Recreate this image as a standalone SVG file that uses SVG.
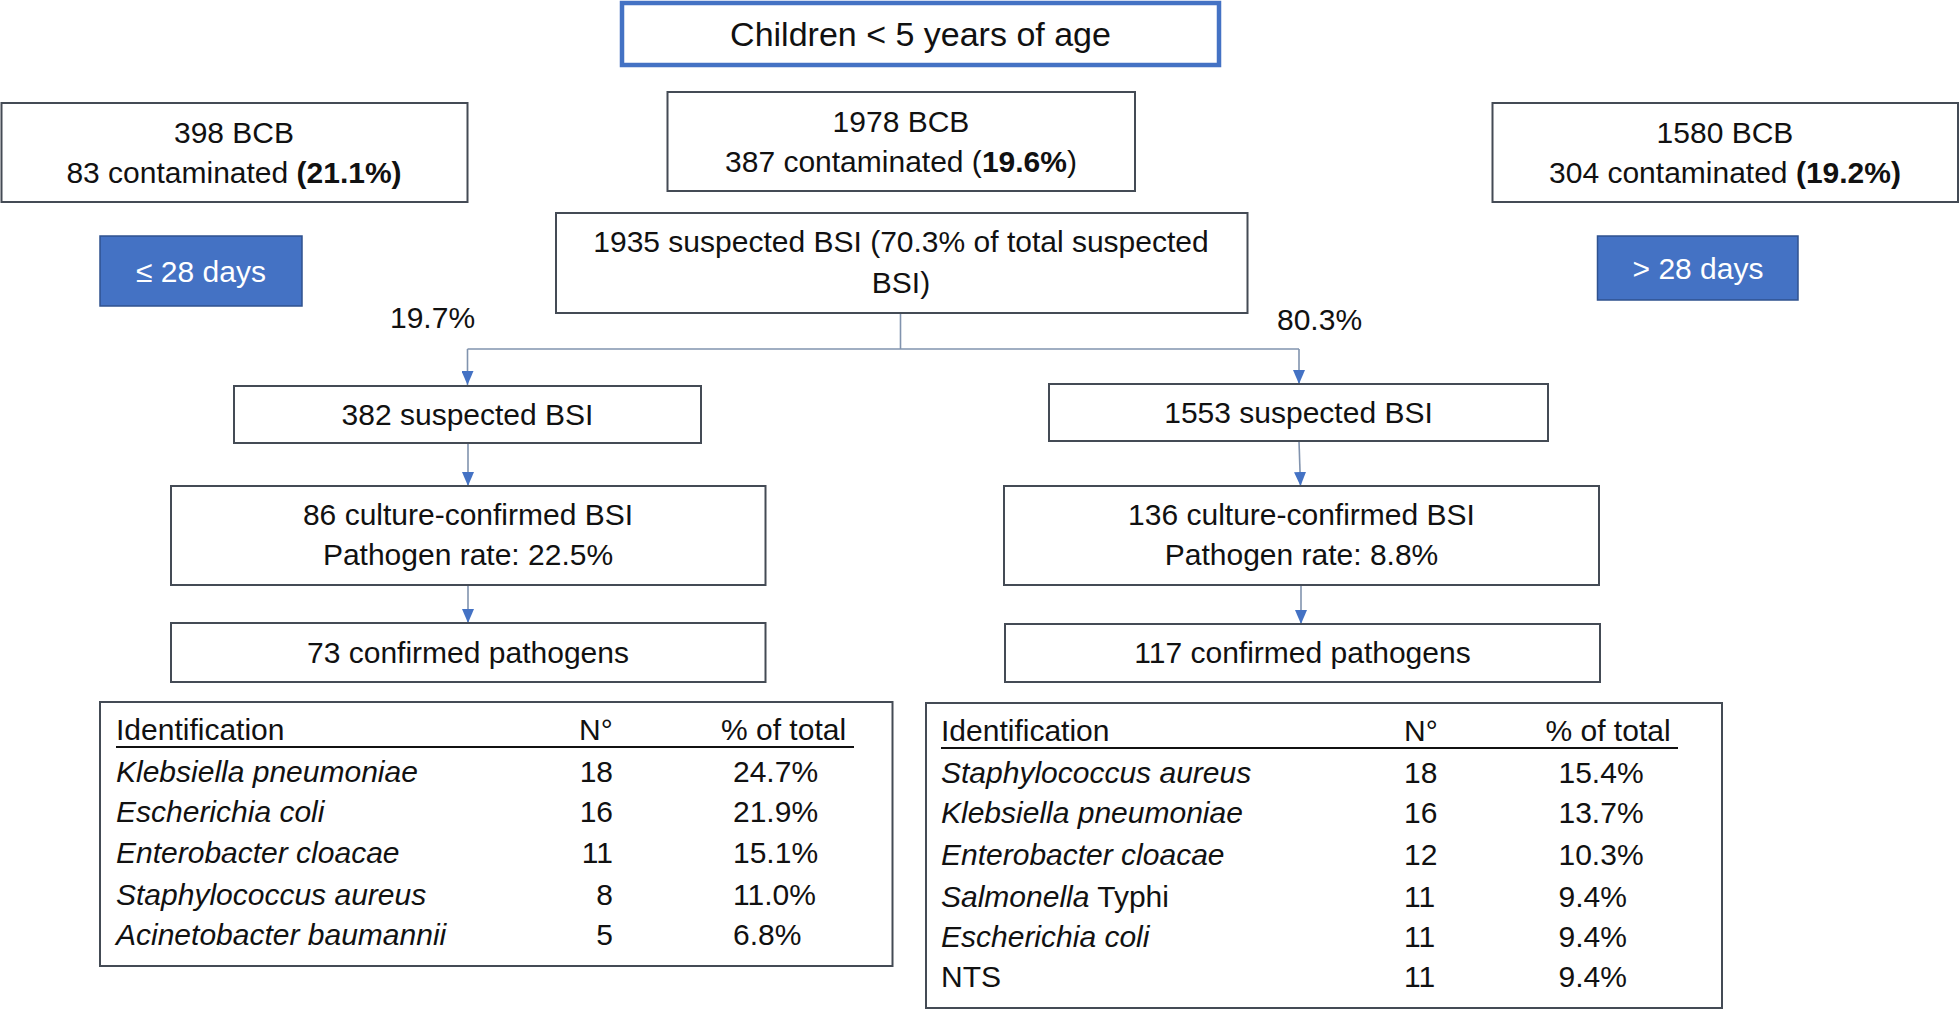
<svg xmlns="http://www.w3.org/2000/svg" width="1959" height="1010" viewBox="0 0 1959 1010">
<defs>
<style>
text{font-family:"Liberation Sans",Arial,sans-serif;font-size:30px;fill:#111}
.c{text-anchor:middle}
.e{text-anchor:end}
.b{font-weight:bold}
.i{font-style:italic}
.box{fill:#fff;stroke:#444b55;stroke-width:2}
.blue{fill:#4472c4;stroke:#2f528f;stroke-width:1.5}
.wt{fill:#fff}
.con{fill:none;stroke:#8193ae;stroke-width:1.6}
</style>
<marker id="ah" markerUnits="userSpaceOnUse" markerWidth="12" markerHeight="14" refX="6" refY="13" orient="auto-start-reverse" viewBox="0 0 12 14">
<path d="M0,0 L12,0 L6,14 Z" fill="#4472c4" transform="rotate(-90 6 7) translate(0 0)"/>
</marker>
<marker id="arr" markerUnits="userSpaceOnUse" markerWidth="14" markerHeight="12" refX="14" refY="6" orient="auto" viewBox="0 0 14 12">
<path d="M0,0 L14,6 L0,12 Z" fill="#4472c4"/>
</marker>
</defs>
<rect width="1959" height="1010" fill="#fff"/>

<g id="connectors">
<path class="con" d="M900.5,313 V349"/>
<path class="con" d="M467.5,349 H1299"/>
<path class="con" d="M467.5,349 V385" marker-end="url(#arr)"/>
<path class="con" d="M1299,349 V384" marker-end="url(#arr)"/>
<path class="con" d="M468,443 V486" marker-end="url(#arr)"/>
<path class="con" d="M468,585 V623" marker-end="url(#arr)"/>
<path class="con" d="M1299,441 L1300.5,486" marker-end="url(#arr)"/>
<path class="con" d="M1301,585 V624" marker-end="url(#arr)"/>
</g>

<g id="title">
<rect x="622" y="3" width="597" height="62" fill="#fff" stroke="#4472c4" stroke-width="4.5"/>
<text class="c" x="920.5" y="46" style="font-size:34px">Children &lt; 5 years of age</text>
</g>

<g id="bcb-left">
<rect class="box" x="1.5" y="103" width="466" height="99"/>
<text class="c" x="234" y="143">398 BCB</text>
<text class="c" x="234" y="183">83 contaminated <tspan class="b">(21.1%)</tspan></text>
</g>

<g id="bcb-center">
<rect class="box" x="667.5" y="92" width="467.5" height="99"/>
<text class="c" x="901" y="132">1978 BCB</text>
<text class="c" x="901" y="172">387 contaminated (<tspan class="b">19.6%</tspan>)</text>
</g>

<g id="bcb-right">
<rect class="box" x="1492.5" y="103" width="465.5" height="99"/>
<text class="c" x="1725" y="143">1580 BCB</text>
<text class="c" x="1725" y="183">304 contaminated <tspan class="b">(19.2%)</tspan></text>
</g>

<g id="age-young">
<rect class="blue" x="100" y="236" width="202" height="70"/>
<text class="c wt" x="201" y="282">≤ 28 days</text>
</g>

<g id="age-old">
<rect class="blue" x="1597.5" y="236" width="200.5" height="64"/>
<text class="c wt" x="1698" y="279">&gt; 28 days</text>
</g>

<g id="suspected-total">
<rect class="box" x="556" y="213" width="691.5" height="100"/>
<text class="c" x="901" y="252">1935 suspected BSI (70.3% of total suspected</text>
<text class="c" x="901" y="293">BSI)</text>
</g>

<g id="pct-labels">
<text x="390" y="328">19.7%</text>
<text x="1277" y="330">80.3%</text>
</g>

<g id="suspected-young">
<rect class="box" x="234" y="386" width="467" height="57"/>
<text class="c" x="467.5" y="425">382 suspected BSI</text>
</g>

<g id="confirmed-young">
<rect class="box" x="171" y="486" width="594.5" height="99"/>
<text class="c" x="468" y="525">86 culture-confirmed BSI</text>
<text class="c" x="468" y="565">Pathogen rate: 22.5%</text>
</g>

<g id="pathogens-young">
<rect class="box" x="171" y="623" width="594.5" height="59"/>
<text class="c" x="468" y="663">73 confirmed pathogens</text>
</g>

<g id="suspected-old">
<rect class="box" x="1049" y="384" width="499" height="57"/>
<text class="c" x="1298.5" y="423">1553 suspected BSI</text>
</g>

<g id="confirmed-old">
<rect class="box" x="1004" y="486" width="595" height="99"/>
<text class="c" x="1301.5" y="525">136 culture-confirmed BSI</text>
<text class="c" x="1301.5" y="565">Pathogen rate: 8.8%</text>
</g>

<g id="pathogens-old">
<rect class="box" x="1005" y="624" width="595" height="58"/>
<text class="c" x="1302.5" y="663">117 confirmed pathogens</text>
</g>

<g id="table-young">
<rect class="box" x="100" y="702" width="792.5" height="264"/>
<text x="116" y="740">Identification</text>
<text x="579" y="740">N°</text>
<text x="721" y="740">% of total</text>
<line x1="116" y1="747" x2="854" y2="747" stroke="#111" stroke-width="2"/>
<text class="i" x="116" y="782">Klebsiella pneumoniae</text>
<text class="e" x="613" y="782">18</text>
<text x="733" y="782">24.7%</text>
<text class="i" x="116" y="822">Escherichia coli</text>
<text class="e" x="613" y="822">16</text>
<text x="733" y="822">21.9%</text>
<text class="i" x="116" y="863">Enterobacter cloacae</text>
<text class="e" x="613" y="863">11</text>
<text x="733" y="863">15.1%</text>
<text class="i" x="116" y="905">Staphylococcus aureus</text>
<text class="e" x="613" y="905">8</text>
<text x="733" y="905">11.0%</text>
<text class="i" x="116" y="945">Acinetobacter baumannii</text>
<text class="e" x="613" y="945">5</text>
<text x="733" y="945">6.8%</text>
</g>

<g id="table-old">
<rect class="box" x="926" y="703" width="796" height="305"/>
<text x="941" y="741">Identification</text>
<text x="1404" y="741">N°</text>
<text x="1545.5" y="741">% of total</text>
<line x1="941" y1="748" x2="1678" y2="748" stroke="#111" stroke-width="2"/>
<text class="i" x="941" y="783">Staphylococcus aureus</text>
<text x="1404" y="783">18</text>
<text x="1558.5" y="783">15.4%</text>
<text class="i" x="941" y="823">Klebsiella pneumoniae</text>
<text x="1404" y="823">16</text>
<text x="1558.5" y="823">13.7%</text>
<text class="i" x="941" y="865">Enterobacter cloacae</text>
<text x="1404" y="865">12</text>
<text x="1558.5" y="865">10.3%</text>
<text x="941" y="907"><tspan class="i">Salmonella</tspan> Typhi</text>
<text x="1404" y="907">11</text>
<text x="1558.5" y="907">9.4%</text>
<text class="i" x="941" y="947">Escherichia coli</text>
<text x="1404" y="947">11</text>
<text x="1558.5" y="947">9.4%</text>
<text x="941" y="987">NTS</text>
<text x="1404" y="987">11</text>
<text x="1558.5" y="987">9.4%</text>
</g>
</svg>
